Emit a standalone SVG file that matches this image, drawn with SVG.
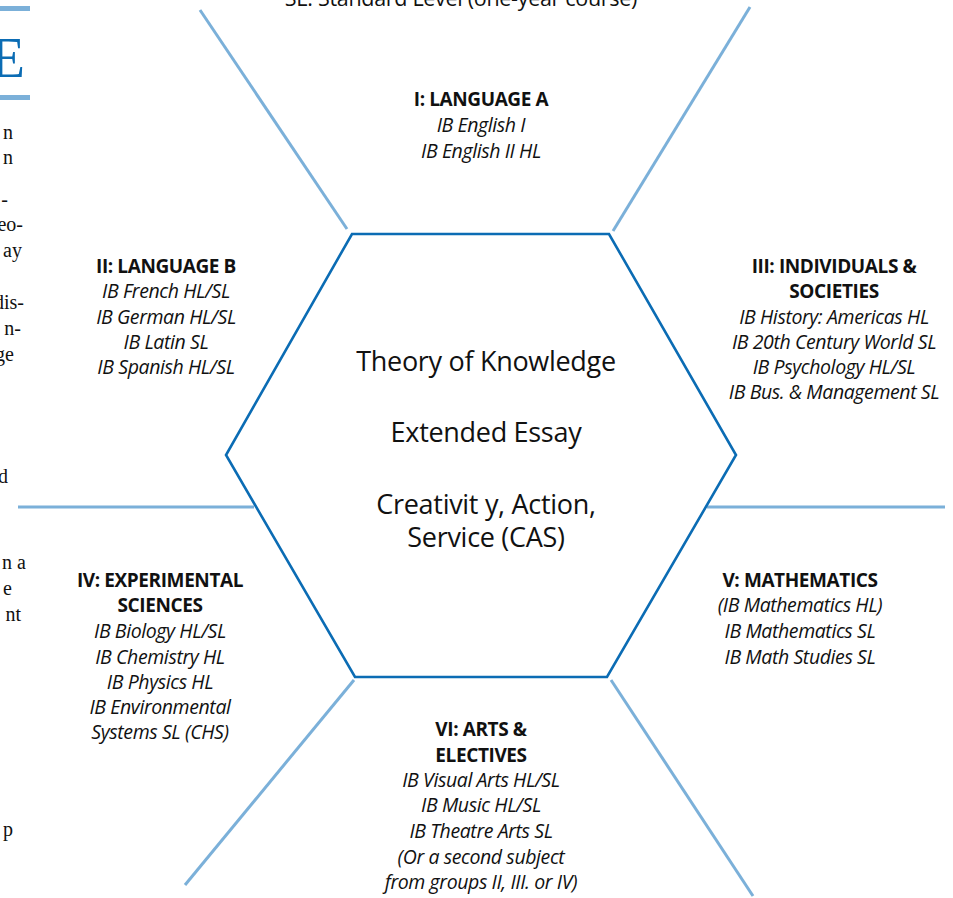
<svg xmlns="http://www.w3.org/2000/svg" width="953" height="898" viewBox="0 0 953 898">
<style>
.conn{stroke:#7bb0d9;stroke-width:3;fill:none}
.hex{stroke:#0b6cb4;stroke-width:2.6;fill:#fff;stroke-linejoin:miter}
.h{font-family:"Open Sans","Noto Sans",sans-serif;font-weight:bold;font-size:19px;fill:#111;text-anchor:middle;letter-spacing:-0.4px}
.i{font-family:"Open Sans","Noto Sans",sans-serif;font-style:italic;font-size:19.5px;fill:#111;text-anchor:middle;letter-spacing:-0.4px}
.c{font-family:"Open Sans","Noto Sans",sans-serif;font-size:27px;fill:#111;text-anchor:middle;letter-spacing:-0.3px}
.s{font-family:"Liberation Serif",serif;font-size:20px;fill:#111;text-anchor:end}
.t{font-family:"Open Sans","Noto Sans",sans-serif;font-size:21.5px;fill:#111;text-anchor:middle;letter-spacing:-0.3px}
</style>
<rect width="953" height="898" fill="#fff"/>
<g id="margin">
<rect x="0" y="6" width="30" height="5" fill="#7bb0d9"/>
<text x="25" y="77" style="font-family:'Liberation Serif',serif;font-size:56px;fill:#0b6cb4;text-anchor:end">E</text>
<rect x="0" y="95" width="30" height="5" fill="#7bb0d9"/>
<text class="s" x="13" y="139">n</text>
<text class="s" x="13" y="164">n</text>
<text class="s" x="8" y="206">-</text>
<text class="s" x="23" y="231">eo-</text>
<text class="s" x="22" y="257">ay</text>
<text class="s" x="24" y="309">dis-</text>
<text class="s" x="21" y="335">n-</text>
<text class="s" x="14" y="361">ge</text>
<text class="s" x="8" y="483">d</text>
<text class="s" x="26" y="569">n a</text>
<text class="s" x="12" y="595">e</text>
<text class="s" x="21" y="621">nt</text>
<text class="s" x="13" y="836">p</text>
</g>
<text class="t" x="461" y="6">SL: Standard Level (one-year course)</text>
<g id="connectors">
<line class="conn" x1="200" y1="10" x2="347" y2="229"/>
<line class="conn" x1="750" y1="7" x2="613" y2="231"/>
<line class="conn" x1="18" y1="507" x2="254" y2="507"/>
<line class="conn" x1="707" y1="507" x2="945" y2="507"/>
<line class="conn" x1="354" y1="680" x2="185" y2="885"/>
<line class="conn" x1="611" y1="680" x2="753" y2="896"/>
</g>
<g id="core">
<polygon class="hex" points="352,234 609,234 736,455 607,677 355,677 226,455"/>
<text class="c" x="486" y="371">Theory of Knowledge</text>
<text class="c" x="486" y="442">Extended Essay</text>
<text class="c" x="486" y="514">Creativit y, Action,</text>
<text class="c" x="486" y="547">Service (CAS)</text>
</g>
<g id="group1">
<text class="h" x="481" y="106">I: LANGUAGE A</text>
<text class="i" x="481" y="132">IB English I</text>
<text class="i" x="481" y="158">IB English II HL</text>
</g>
<g id="group2">
<text class="h" x="166" y="273">II: LANGUAGE B</text>
<text class="i" x="166" y="298">IB French HL/SL</text>
<text class="i" x="166" y="324">IB German HL/SL</text>
<text class="i" x="166" y="349">IB Latin SL</text>
<text class="i" x="166" y="374">IB Spanish HL/SL</text>
</g>
<g id="group3">
<text class="h" x="834" y="273">III: INDIVIDUALS &amp;</text>
<text class="h" x="834" y="298">SOCIETIES</text>
<text class="i" x="834" y="324">IB History: Americas HL</text>
<text class="i" x="834" y="349">IB 20th Century World SL</text>
<text class="i" x="834" y="374">IB Psychology HL/SL</text>
<text class="i" x="834" y="399">IB Bus. &amp; Management SL</text>
</g>
<g id="group4">
<text class="h" x="160" y="587">IV: EXPERIMENTAL</text>
<text class="h" x="160" y="612">SCIENCES</text>
<text class="i" x="160" y="638">IB Biology HL/SL</text>
<text class="i" x="160" y="664">IB Chemistry HL</text>
<text class="i" x="160" y="689">IB Physics HL</text>
<text class="i" x="160" y="714">IB Environmental</text>
<text class="i" x="160" y="739">Systems SL (CHS)</text>
</g>
<g id="group5">
<text class="h" x="800" y="587">V: MATHEMATICS</text>
<text class="i" x="800" y="612">(IB Mathematics HL)</text>
<text class="i" x="800" y="638">IB Mathematics SL</text>
<text class="i" x="800" y="664">IB Math Studies SL</text>
</g>
<g id="group6">
<text class="h" x="481" y="736">VI: ARTS &amp;</text>
<text class="h" x="481" y="762">ELECTIVES</text>
<text class="i" x="481" y="787">IB Visual Arts HL/SL</text>
<text class="i" x="481" y="812">IB Music HL/SL</text>
<text class="i" x="481" y="838">IB Theatre Arts SL</text>
<text class="i" x="481" y="864">(Or a second subject</text>
<text class="i" x="481" y="889">from groups II, III. or IV)</text>
</g>
</svg>
